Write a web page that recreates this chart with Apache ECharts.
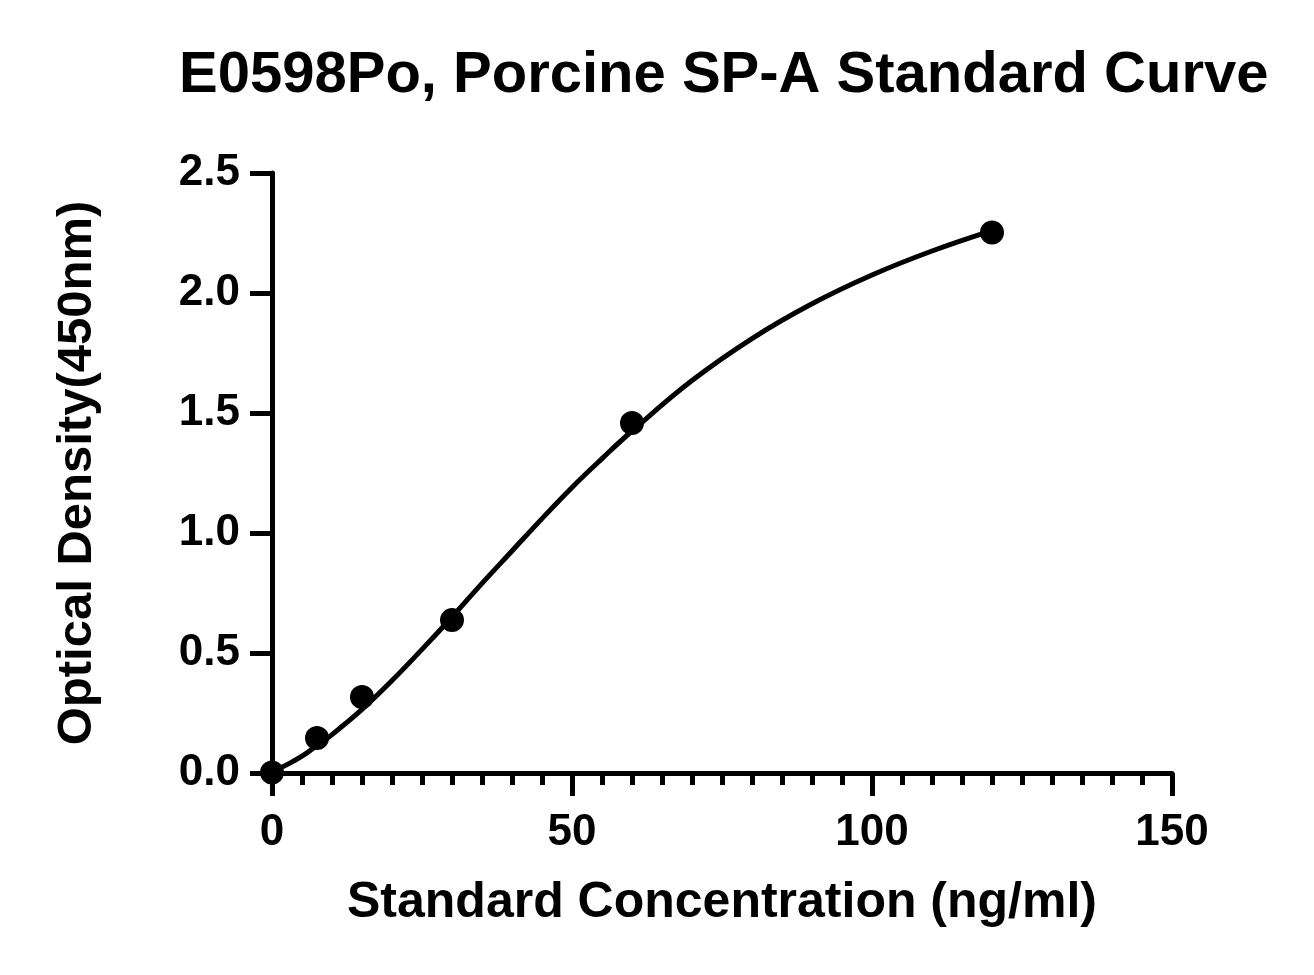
<!DOCTYPE html>
<html>
<head>
<meta charset="utf-8">
<title>E0598Po, Porcine SP-A Standard Curve</title>
<script src="https://cdn.jsdelivr.net/npm/echarts@6/dist/echarts.min.js"></script>
<style>
  html, body { margin: 0; padding: 0; background: #fff; }
  #chart { width: 1314px; height: 975px; }
</style>
</head>
<body>
<div id="chart"></div>
<script>
// measured standards (ng/ml, OD 450nm)
const standardConc = [0, 7.5, 15, 30, 60, 120];
const standardOD = [0.002, 0.146, 0.317, 0.637, 1.458, 2.252];

// fitted curve
const curveConc = [0, 2.5, 5, 7.5, 10, 15, 20, 25, 30, 35, 40, 45, 50, 55, 60, 70, 80, 90, 100, 110, 120];
const curveOD = [0.005, 0.035, 0.07, 0.115, 0.16, 0.265, 0.385, 0.515, 0.65, 0.79, 0.925, 1.06, 1.19, 1.31, 1.425, 1.635, 1.81, 1.955, 2.075, 2.175, 2.26];

const xTicks = [0, 50, 100, 150];
const yTicks = [0, 0.5, 1.0, 1.5, 2.0, 2.5];

const FONT = "'Liberation Sans', Arial, sans-serif";

const chart = echarts.init(document.getElementById('chart'));

const curveData = curveConc.map((x, i) => [x, curveOD[i]]);
const pointData = standardConc.map((x, i) => [x, standardOD[i]]);

const axisCommon = {
  axisLine: { show: true, lineStyle: { color: '#000', width: 5 } },
  splitLine: { show: false },
  nameTextStyle: { color: '#000', fontFamily: FONT, fontWeight: 'bold', fontSize: 49 },
  axisLabel: { color: '#000', fontFamily: FONT, fontWeight: 'bold', fontSize: 44 }
};

chart.setOption({
  animation: false,
  backgroundColor: '#fff',
  title: {
    text: 'E0598Po, Porcine SP-A Standard Curve',
    left: 174,
    top: 42,
    textStyle: { color: '#000', fontFamily: FONT, fontWeight: 'bold', fontSize: 58 }
  },
  grid: { left: 272, right: 142, top: 173, bottom: 202, containLabel: false },
  xAxis: Object.assign({}, axisCommon, {
    type: 'value',
    min: xTicks[0],
    max: xTicks[xTicks.length - 1],
    interval: 50,
    name: 'Standard Concentration (ng/ml)',
    nameLocation: 'middle',
    nameGap: 105,
    nameTextStyle: Object.assign({}, axisCommon.nameTextStyle, { fontSize: 50 }),
    axisTick: { show: true, length: 23, lineStyle: { color: '#000', width: 5 } },
    minorTick: { show: true, splitNumber: 10, length: 12, lineStyle: { color: '#000', width: 5 } },
    axisLabel: Object.assign({}, axisCommon.axisLabel, { margin: 38 })
  }),
  yAxis: Object.assign({}, axisCommon, {
    type: 'value',
    min: yTicks[0],
    max: yTicks[yTicks.length - 1],
    interval: 0.5,
    name: 'Optical Density(450nm)',
    nameLocation: 'middle',
    nameGap: 170,
    axisTick: { show: true, length: 22, lineStyle: { color: '#000', width: 5 } },
    axisLabel: Object.assign({}, axisCommon.axisLabel, {
      margin: 32,
      formatter: v => v.toFixed(1)
    })
  }),
  series: [
    {
      type: 'line',
      data: curveData,
      smooth: 0.4,
      showSymbol: false,
      lineStyle: { color: '#000', width: 5 },
      z: 2
    },
    {
      type: 'scatter',
      data: pointData,
      symbol: 'circle',
      symbolSize: 24,
      itemStyle: { color: '#000', opacity: 1 },
      z: 3
    }
  ]
});
</script>
</body>
</html>
